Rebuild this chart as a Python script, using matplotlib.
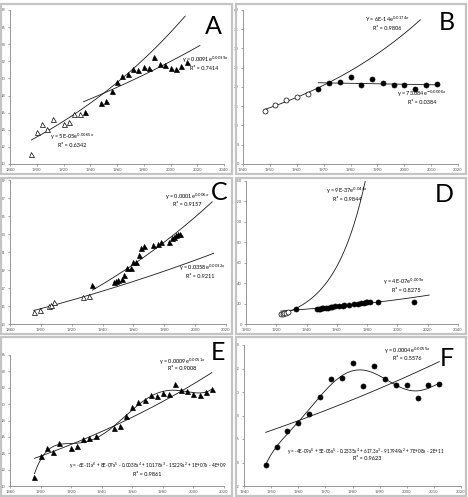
import numpy as np
import matplotlib
matplotlib.use("Agg")
import matplotlib.pyplot as plt
from matplotlib.patches import Rectangle

plt.rcParams['font.family'] = ['Lato', 'DejaVu Sans']

# ---- data ----
# A / E : Olympic years 1896-2012
years_ae = [1896, 1900, 1904, 1908, 1912, 1920, 1924, 1928, 1932, 1936, 1948, 1952, 1956, 1960,
            1964, 1968, 1972, 1976, 1980, 1984, 1988, 1992, 1996, 2000, 2004, 2008, 2012]
values_ae = [11.15, 13.7, 14.7, 14.1, 15.25, 14.7, 14.9, 15.8, 15.9, 16.1, 17.1, 17.35, 18.55, 19.6,
             20.3, 20.5, 21.1, 21.0, 21.3, 21.2, 22.5, 21.7, 21.6, 21.25, 21.15, 21.5, 21.9]
n_open_a = 9  # 1896-1932 drawn open in panel A

# B / F : Olympic years 1948-2012
years_bf = [1948, 1952, 1956, 1960, 1964, 1968, 1972, 1976, 1980, 1984, 1988, 1992, 1996,
            2000, 2004, 2008, 2012]
values_bf = [13.8, 15.3, 16.7, 17.4, 18.1, 19.6, 21.1, 21.2, 22.5, 20.5, 22.2, 21.1, 20.6,
             20.6, 19.5, 20.6, 20.7]
n_open_b = 5

# C
open_c_years = [1895.5, 1899.6, 1905.0, 1906.8, 1908.4, 1927.5, 1931.5]
open_c_values = [14.3, 14.56, 15.0, 15.07, 15.48, 15.96, 16.11]
filled_c_years = [1933.4, 1947.6, 1948.5, 1949.8, 1952.4, 1953.7, 1955.9, 1958.5, 1959.6, 1961.6,
                  1963.5, 1965.1, 1966.8, 1972.7, 1976.0, 1977.7, 1982.9, 1985.1, 1986.4, 1987.7,
                  1989.0, 1990.4]
filled_c_values = [17.33, 17.63, 17.78, 17.85, 17.96, 18.44, 19.19, 19.26, 19.93, 19.93,
                   20.67, 21.41, 21.67, 21.78, 21.89, 22.07, 22.15, 22.52, 22.7, 22.89,
                   22.96, 23.0]

# D
open_d_years = [1923.0, 1924.2, 1925.3, 1926.4, 1927.5]
open_d_values = [9.4, 10.0, 10.5, 11.1, 11.7]
filled_d_years = [1933, 1947, 1948, 1949, 1950, 1951, 1953, 1954, 1956, 1957, 1959, 1961.5,
                  1964, 1965, 1968, 1971, 1974, 1976, 1978, 1979, 1980, 1982, 1987, 2011]
filled_d_values = [14.3, 14.4, 14.6, 14.9, 15.2, 15.5, 15.9, 16.1, 16.4, 16.8, 17.2, 17.6,
                   18.0, 18.4, 18.9, 19.3, 20.0, 20.5, 20.8, 21.2, 21.5, 21.8, 21.9, 21.9]

W, H = 468, 497
fig = plt.figure(figsize=(W / 100, H / 100), dpi=100)

GRAY = '#595959'


def px_axes(l, t, r, b):
    return fig.add_axes([l / W, 1 - b / H, (r - l) / W, (b - t) / H])


def frame(l, t, r, b):
    fig.add_artist(Rectangle((l / W, 1 - b / H), (r - l) / W, (b - t) / H,
                             transform=fig.transFigure, fill=False, ec='#c4c4c4', lw=1.6))


def ftext(x, y, s, size=4, **kw):
    fig.text(x / W, 1 - y / H, s, fontsize=size, ha='center', va='center', **kw)


def style(ax, xlim, xticks, ylim, yticks):
    ax.set_xlim(xlim)
    ax.set_ylim(ylim)
    ax.set_xticks(xticks)
    ax.set_yticks(yticks)
    for s in ['top', 'right']:
        ax.spines[s].set_visible(False)
    for s in ['left', 'bottom']:
        ax.spines[s].set_color('#868686')
        ax.spines[s].set_linewidth(0.6)
    ax.tick_params(labelsize=3, colors='#868686', labelcolor=GRAY, length=1.5, width=0.5, pad=1.5)
    ax.patch.set_alpha(0)


def exp_trend(ax, x, y, x0, x1):
    b, a = np.polyfit(np.asarray(x, float), np.log(y), 1)
    xs = np.linspace(x0, x1, 200)
    ax.plot(xs, np.exp(a + b * xs), color='#1a1a1a', lw=0.6, zorder=1)


def poly_trend(ax, x, y):
    x = np.asarray(x, float)
    xm = x.mean()
    p = np.polyfit(x - xm, y, 6)
    xs = np.linspace(x.min(), x.max(), 300)
    ax.plot(xs, np.polyval(p, xs - xm), color='#1a1a1a', lw=0.6, zorder=1)


def pts(ax, x, y, marker, filled):
    ax.plot(x, y, ls='none', marker=marker, ms=3.6, mec='black', mew=0.5,
            mfc='black' if filled else 'white', zorder=3)


# frames
frame(1, 4, 232, 174)
frame(236, 4, 466, 174)
frame(1, 178, 232, 334)
frame(236, 178, 466, 334)
frame(1, 337, 232, 496)
frame(236, 337, 466, 496)

# ---- A ----
ax = px_axes(10, 10, 224, 164)
style(ax, (1880, 2040), range(1880, 2041, 20), (10, 28), range(10, 29, 2))
ya, va = years_ae, values_ae
exp_trend(ax, ya[:n_open_a], va[:n_open_a], 1896, 2011)
exp_trend(ax, ya[n_open_a:], va[n_open_a:], 1935, 2022)
pts(ax, ya[:n_open_a], va[:n_open_a], '^', False)
pts(ax, ya[n_open_a:], va[n_open_a:], '^', True)
ftext(205, 60, r'y = 0.0091e$^{0.0039x}$')
ftext(204, 69, 'R² = 0.7414')
ftext(72, 137, r'y = 5E-05e$^{0.0065x}$')
ftext(72, 146, 'R² = 0.6342')
ftext(213, 27, 'A', size=18)

# ---- B ----
ax = px_axes(243, 10, 458, 164)
style(ax, (1940, 2020), range(1940, 2021, 10), (0, 40), range(0, 41, 5))
yb, vb = years_bf, values_bf
exp_trend(ax, yb[:n_open_b], vb[:n_open_b], 1948, 2006)
exp_trend(ax, yb[n_open_b:], vb[n_open_b:], 1968, 2012)
pts(ax, yb[:n_open_b], vb[:n_open_b], 'o', False)
pts(ax, yb[n_open_b:], vb[n_open_b:], 'o', True)
ftext(387, 19, r'Y = 6E-14e$^{0.0174x}$')
ftext(387, 29, 'R² = 0.9806')
ftext(422, 94, r'y = 73.084e$^{-0.0006x}$')
ftext(422, 103, 'R² = 0.0384')
ftext(447, 23, 'B', size=18)

# ---- C ----
ax = px_axes(10, 180, 226, 324)
style(ax, (1880, 2020), range(1880, 2021, 20), (13, 29), range(13, 30, 2))
exp_trend(ax, open_c_years, open_c_values, 1895.5, 2012)
exp_trend(ax, filled_c_years, filled_c_values, 1933.4, 2011)
pts(ax, open_c_years, open_c_values, '^', False)
pts(ax, filled_c_years, filled_c_values, '^', True)
ftext(187, 197, r'y = 0.0001e$^{0.006x}$')
ftext(187, 205, 'R² = 0.9157')
ftext(202, 268, r'y = 0.0358e$^{0.0032x}$')
ftext(200, 277, 'R² = 0.9211')
ftext(219, 193, 'C', size=18)

# ---- D ----
ax = px_axes(246, 181, 458, 324)
style(ax, (1900, 2040), range(1900, 2041, 20), (0, 140), range(0, 141, 20))
exp_trend(ax, open_d_years, open_d_values, 1923, 1980)
exp_trend(ax, filled_d_years, filled_d_values, 1923, 2021)
pts(ax, open_d_years, open_d_values, 'o', False)
pts(ax, filled_d_years, filled_d_values, 'o', True)
ftext(347, 191, r'y = 9E-37e$^{0.044x}$')
ftext(347, 199, 'R² = 0.9844')
ftext(404, 282, r'y = 4E-07e$^{0.009x}$')
ftext(406, 291, 'R² = 0.8275')
ftext(444, 195, 'D', size=18)

# ---- E ----
ax = px_axes(10, 355, 224, 486)
style(ax, (1880, 2020), range(1880, 2021, 20), (10, 26), range(10, 27, 2))
exp_trend(ax, years_ae, values_ae, 1896, 2012)
poly_trend(ax, years_ae, values_ae)
pts(ax, years_ae, values_ae, '^', True)
ftext(182, 362, r'y = 0.0009e$^{0.0051x}$')
ftext(182, 369, 'R² = 0.9008')
ftext(148, 466, r'y = -6E-11x$^6$ + 8E-07x$^5$ - 0.0038x$^4$ + 10.178x$^3$ - 15229x$^2$ + 1E+07x - 4E+09',
      size=3.3)
ftext(147, 474, 'R² = 0.9861')
ftext(218, 353, 'E', size=18)

# ---- F ----
ax = px_axes(244, 345, 461, 486)
style(ax, (1940, 2020), range(1940, 2021, 10), (12, 24), range(12, 25, 2))
exp_trend(ax, years_bf, values_bf, 1948, 2012)
poly_trend(ax, years_bf, values_bf)
pts(ax, years_bf, values_bf, 'o', True)
ftext(407, 351, r'y = 0.0004e$^{0.0055x}$')
ftext(407, 359, 'R² = 0.5576')
ftext(366, 452, r'y = -4E-09x$^6$ + 5E-05x$^5$ - 0.2335x$^4$ + 617.3x$^3$ - 917949x$^2$ + 7E+08x - 2E+11',
      size=3.3)
ftext(367, 459, 'R² = 0.9623')
ftext(447, 359, 'F', size=18)

fig.savefig('out.png', dpi=100)
